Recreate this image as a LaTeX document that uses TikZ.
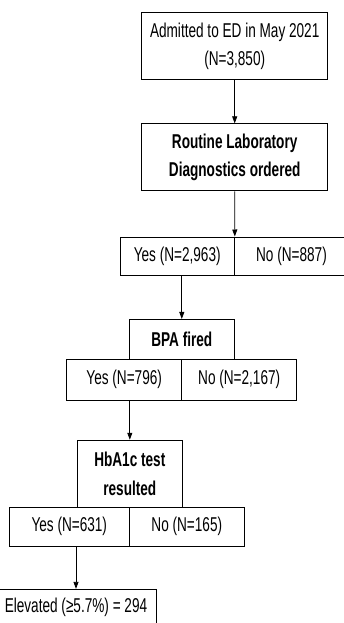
\documentclass[tikz,border=0pt]{standalone}
\usepackage{fontspec}
\setmainfont[FakeStretch=0.68]{Liberation Sans}
\usetikzlibrary{arrows.meta}

\begin{document}
\begin{tikzpicture}[x=1pt, y=-1pt, >={Triangle[length=7pt,width=5pt]},
  font=\fontsize{20}{28.5}\selectfont,
  box/.style={draw, line width=0.9pt, align=center, inner sep=0pt},
  cell/.style={box, minimum height=38.5pt},
  flow/.style={->, line width=0.8pt}]
  \useasboundingbox (0,0) rectangle (343,623);

  % top of the flow
  \node[box, minimum width=186pt, minimum height=67pt] (adm) at (234.7,46.3)
    {Admitted to ED in May 2021\\(N=3,850)};
  \node[box, minimum width=186pt, minimum height=67pt] (lab) at (234.7,157.3)
    {\bfseries Routine Laboratory\\\bfseries Diagnostics ordered};
  \node[cell, minimum width=114.3pt] (yesa) at (177.2,256.2) {Yes (N=2,963)};
  \node[cell, minimum width=114.3pt] (noa) at (291.5,256.2) {No (N=887)};

  % BPA
  \node[box, minimum width=105pt, minimum height=40pt] (bpa) at (181.8,339.4)
    {\bfseries BPA fired};
  \node[cell, minimum width=115pt, minimum height=40.5pt] (yesb) at (124.2,379.7) {Yes (N=796)};
  \node[cell, minimum width=115pt, minimum height=40.5pt] (nob) at (239.2,379.7) {No (N=2,167)};

  % HbA1c
  \node[box, minimum width=105pt, minimum height=67pt] (hba) at (129.8,473.7)
    {\bfseries HbA1c test\\\bfseries resulted};
  \node[cell, minimum width=120pt] (yesc) at (69.3,526.7) {Yes (N=631)};
  \node[cell, minimum width=115pt] (noc) at (186.8,526.7) {No (N=165)};

  \node[box, minimum width=160pt, minimum height=36pt] (elev) at (76,607.3)
    {Elevated (≥5.7\%) = 294};

  \draw[flow] (adm.south) -- (lab.north);
  \draw[flow] (lab.south) -- (yesa.north east);
  \draw[flow] (yesa.south -| bpa.north) -- (bpa.north);
  \draw[flow] (yesb.south -| hba.north) -- (hba.north);
  \draw[flow] (yesc.south -| elev.north) -- (elev.north);
\end{tikzpicture}
\end{document}
